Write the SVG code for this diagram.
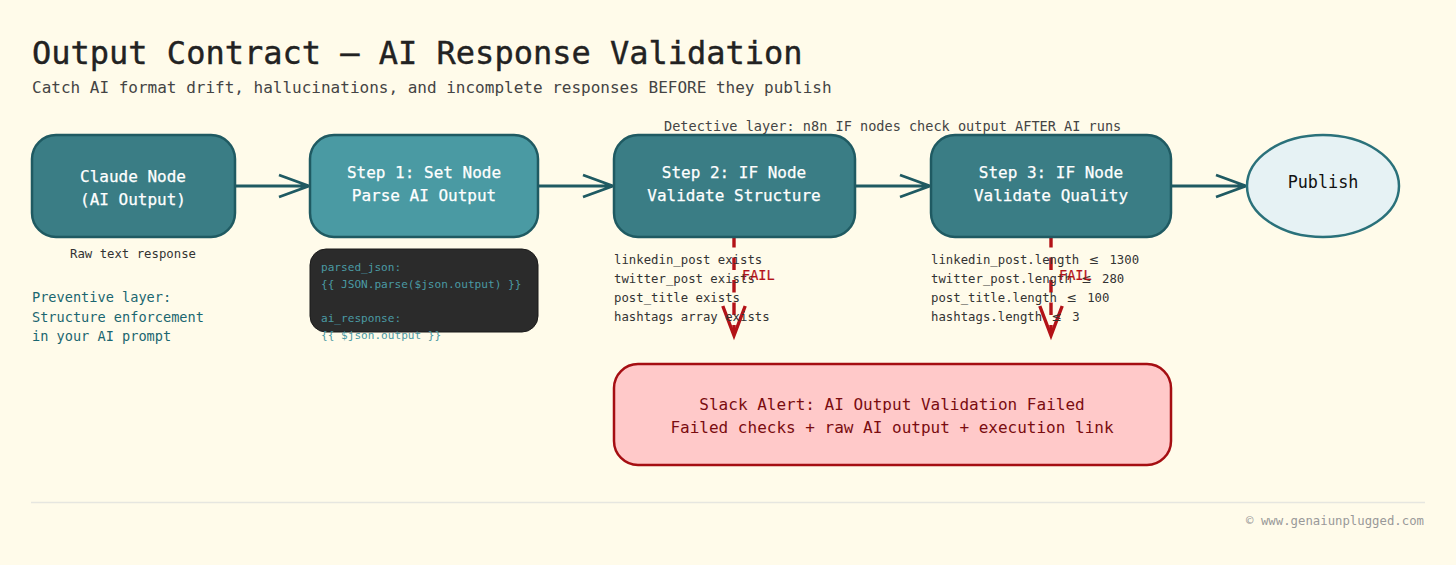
<svg xmlns="http://www.w3.org/2000/svg" width="1456" height="565" viewBox="0 0 1456 565">
<defs>
<style>
text{font-family:"DejaVu Sans Mono","Liberation Mono",monospace;white-space:pre}
.n{fill:#3a7d85;stroke:#1f5a62;stroke-width:2.5}
.l{fill:#fff;font-size:16px;text-anchor:middle;stroke:#fff;stroke-width:.25}
.s{fill:#333;font-size:12.32px}
.c{fill:#4a9aa3;font-size:11.1px}
.p{fill:#1a6670;font-size:13.6px}
.a{fill:none;stroke:#1f5a62;stroke-width:2.8}
.r{fill:none;stroke:#b31217;stroke-width:3.4}
.le{font-family:"DejaVu Sans",sans-serif}
.f{fill:#b31217;font-size:13.6px;stroke:#b31217;stroke-width:.2}
</style>
</defs>
<rect width="1456" height="565" fill="#fffbea"/>
<g id="header">
<text x="32" y="64" font-size="32" fill="#222" stroke="#222" stroke-width=".4">Output Contract — AI Response Validation</text>
<text x="32" y="93" font-size="16" fill="#444">Catch AI format drift, hallucinations, and incomplete responses BEFORE they publish</text>
<text x="664" y="131" font-size="13.57" fill="#444">Detective layer: n8n IF nodes check output AFTER AI runs</text>
</g>
<g id="connectors">
<path class="a" d="M235 186H309M279 175L309 186L279 197"/>
<path class="a" d="M538 186H613M583 175L613 186L583 197"/>
<path class="a" d="M855 186H930M900 175L930 186L900 197"/>
<path class="a" d="M1171 186H1246M1216 175L1246 186L1216 197"/>
<path class="r" d="M734 235V334" stroke-dasharray="12.5 10"/>
<path class="r" d="M722.800 306L734 335.500L745.200 306"/>
<path class="r" d="M1051 235V334" stroke-dasharray="12.5 10"/>
<path class="r" d="M1039.800 306L1051 335.500L1062.200 306"/>
</g>
<g id="claude">
<rect class="n" x="32" y="135" width="203" height="102" rx="24"/>
<text class="l" x="133" y="182">Claude Node</text>
<text class="l" x="133" y="205">(AI Output)</text>
<text class="s" x="133" y="258" text-anchor="middle">Raw text response</text>
</g>
<g id="preventive">
<text class="p" x="32" y="302">Preventive layer:</text>
<text class="p" x="32" y="322">Structure enforcement</text>
<text class="p" x="32" y="341">in your AI prompt</text>
</g>
<g id="step1">
<rect x="310" y="135" width="228" height="102" rx="24" fill="#4a9aa3" stroke="#1f5a62" stroke-width="2.5"/>
<text class="l" x="424" y="178">Step 1: Set Node</text>
<text class="l" x="424" y="201">Parse AI Output</text>
</g>
<g id="code">
<rect x="310" y="249" width="228" height="83" rx="16" fill="#2b2b2b" stroke="#1a1a1a"/>
<text class="c" x="321" y="271">parsed_json:</text>
<text class="c" x="321" y="288">{{ JSON.parse($json.output) }}</text>
<text class="c" x="321" y="322">ai_response:</text>
<text class="c" x="321" y="339">{{ $json.output }}</text>
</g>
<g id="step2">
<rect class="n" x="614" y="135" width="241" height="102" rx="24"/>
<text class="l" x="734" y="178">Step 2: IF Node</text>
<text class="l" x="734" y="201">Validate Structure</text>
<text class="s" x="614" y="263.500">linkedin_post exists</text>
<text class="s" x="614" y="282.700">twitter_post exists</text>
<text class="s" x="614" y="301.700">post_title exists</text>
<text class="s" x="614" y="320.700">hashtags array exists</text>
<text class="f" x="742" y="280">FAIL</text>
</g>
<g id="step3">
<rect class="n" x="931" y="135" width="240" height="102" rx="24"/>
<text class="l" x="1051" y="178">Step 3: IF Node</text>
<text class="l" x="1051" y="201">Validate Quality</text>
<text class="s" x="931" y="263.500">linkedin_post.length <tspan class="le" dx="2">≤</tspan><tspan dx="3"> 1300</tspan></text>
<text class="s" x="931" y="282.700">twitter_post.length <tspan class="le" dx="2">≤</tspan><tspan dx="3"> 280</tspan></text>
<text class="s" x="931" y="301.700">post_title.length <tspan class="le" dx="2">≤</tspan><tspan dx="3"> 100</tspan></text>
<text class="s" x="931" y="320.700">hashtags.length <tspan class="le" dx="2">≤</tspan><tspan dx="3"> 3</tspan></text>
<text class="f" x="1059" y="280">FAIL</text>
</g>
<g id="publish">
<ellipse cx="1323" cy="186" rx="76" ry="51" fill="#e6f2f4" stroke="#2a717a" stroke-width="2.5"/>
<text x="1323" y="188" font-size="16.8" fill="#111" text-anchor="middle">Publish</text>
</g>
<g id="alert">
<rect x="614" y="364" width="557" height="101" rx="24" fill="#ffc9c9" stroke="#a50e12" stroke-width="2.5"/>
<text x="892" y="410" font-size="16" fill="#7a0c10" text-anchor="middle">Slack Alert: AI Output Validation Failed</text>
<text x="892" y="433" font-size="16" fill="#7a0c10" text-anchor="middle">Failed checks + raw AI output + execution link</text>
</g>
<g id="footer">
<path d="M31 502.500H1425" stroke="#e6e6e0" stroke-width="1.500" fill="none"/>
<text x="1424" y="525" font-size="12.32" fill="#999" text-anchor="end">© www.genaiunplugged.com</text>
</g>
</svg>
